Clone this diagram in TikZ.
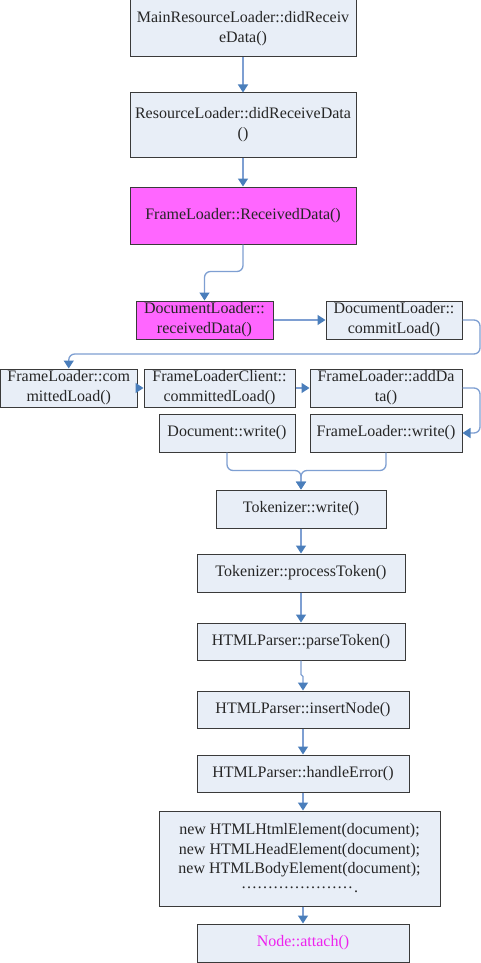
\documentclass[tikz,border=0pt]{standalone}
\usepackage{fontspec}
\setmainfont{Liberation Serif}
\usetikzlibrary{arrows.meta}
\definecolor{boxfill}{HTML}{E8EEF7}
\definecolor{boxline}{HTML}{3A3A3A}
\definecolor{magfill}{HTML}{FF66FF}
\definecolor{lineblue}{HTML}{7E9FD2}
\definecolor{tipblue}{HTML}{4A7EBB}
\definecolor{txt}{HTML}{262626}
\definecolor{magtext}{HTML}{EE22EE}
\tikzset{
  box/.style={draw=boxline, fill=boxfill, line width=1pt, inner sep=0pt, align=center,
    font=\fontsize{16}{20}\selectfont, text=txt},
  magbox/.style={box, fill=magfill},
  conn/.style={draw=lineblue, line width=1.3pt, rounded corners=6pt,
    -{Triangle[length=8pt,width=10pt,color=tipblue,fill=tipblue]}},
}
\begin{document}
\begin{tikzpicture}[x=1pt,y=-1pt]
\useasboundingbox[fill=white] (0,0) rectangle (481,963);
\node[box, minimum width=226pt, minimum height=57pt] (A) at (243,28.5) {MainResourceLoader::didReceiv\\eData()};
\node[box, minimum width=226pt, minimum height=64pt] (B) at (243,125) {ResourceLoader::didReceiveData\\()};
\node[magbox, minimum width=226pt, minimum height=57pt] (C) at (243,215.5) {FrameLoader::ReceivedData()};
\node[magbox, minimum width=137pt, minimum height=38pt] (D) at (204.5,320) {DocumentLoader::\\receivedData()};
\node[box, minimum width=136pt, minimum height=38pt] (E) at (394,320) {DocumentLoader::\\commitLoad()};
\node[box, minimum width=136.5pt, minimum height=38pt] (F) at (68.75,388) {FrameLoader::com\\mittedLoad()};
\node[box, minimum width=151pt, minimum height=38pt] (G) at (219.5,388) {FrameLoaderClient::\\committedLoad()};
\node[box, minimum width=152pt, minimum height=38pt] (H) at (386,388) {FrameLoader::addDa\\ta()};
\node[box, minimum width=136pt, minimum height=38pt] (I) at (227,433) {Document::write()};
\node[box, minimum width=152pt, minimum height=38pt] (J) at (386,433) {FrameLoader::write()};
\node[box, minimum width=170pt, minimum height=38pt] (K) at (301,509) {Tokenizer::write()};
\node[box, minimum width=208pt, minimum height=38pt] (L) at (301,573) {Tokenizer::processToken()};
\node[box, minimum width=208pt, minimum height=37pt] (M) at (301,641.5) {HTMLParser::parseToken()};
\node[box, minimum width=212pt, minimum height=37pt] (N) at (303,709.5) {HTMLParser::insertNode()};
\node[box, minimum width=212pt, minimum height=37pt] (O) at (303,773.5) {HTMLParser::handleError()};
\node[box, minimum width=281pt, minimum height=95pt, font=\fontsize{16}{19.3}\selectfont] (P) at (299.5,858.5)
  {new HTMLHtmlElement(document);\\new HTMLHeadElement(document);\\new HTMLBodyElement(document);\\\raisebox{4pt}{…………………}\kern1pt.};
\node[box, minimum width=212pt, minimum height=38pt, text=magtext] (Q) at (303,943) {Node::attach()};
\coordinate (e1) at (480,354);
\coordinate (e2) at (480,410);
\draw[conn] (A.south) -- (B.north);
\draw[conn] (B.south) -- (C.north);
\draw[conn] (C.south) -- ++(0,27) -| (D.north);
\draw[conn] (D.east) -- (E.west);
\draw[conn] (E.east) -| (e1) -| (F.north);
\draw[conn] (F.east) -- (G.west);
\draw[conn] (G.east) -- (H.west);
\draw[conn] (H.east) -| (e2) |- (J.east);
\draw[conn] (I.south) -- ++(0,18) -| (K.north);
\draw[conn] (J.south) -- ++(0,18) -| (K.north);
\draw[conn] (K.south) -- (L.north);
\draw[conn] (L.south) -- (M.north);
\draw[conn, rounded corners=1pt] (M.south) -- ++(0,15) -| (N.north);
\draw[conn] (N.south) -- (O.north);
\draw[conn] (O.south) -- (O.south |- P.north);
\draw[conn] (Q.north |- P.south) -- (Q.north);
\end{tikzpicture}
\end{document}
